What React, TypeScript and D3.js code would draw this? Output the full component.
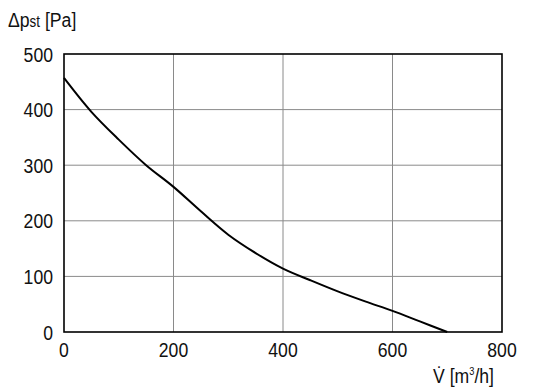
import React, { useEffect, useRef } from 'react';
import * as d3 from 'd3';

// flow rate [m3/h] vs static pressure [Pa]
const flow = [0, 50, 100, 150, 200, 250, 300, 350, 400, 450, 500, 550, 600, 650, 700];
const pressure = [457, 396, 346, 300, 261, 217, 175, 142, 114, 93, 73, 55, 38, 19, 0];
const xTicks = [0, 200, 400, 600, 800];
const yTicks = [0, 100, 200, 300, 400, 500];

const width = 536;
const height = 390;
const margin = { top: 54, right: 34, bottom: 58, left: 64 };
const font = '"Liberation Sans", Arial, sans-serif';
const squeeze = 0.84; // the original uses a condensed face

const App = () => {
  const svgRef = useRef<SVGSVGElement>(null);

  useEffect(() => {
    const svg = d3.select(svgRef.current);
    svg.selectAll('*').remove();

    const x = d3.scaleLinear().domain([0, 800]).range([margin.left, width - margin.right]);
    const y = d3.scaleLinear().domain([0, 500]).range([height - margin.bottom, margin.top]);

    const grid = svg.append('g').attr('stroke', '#8a8a8a').attr('stroke-width', 1);
    grid.selectAll('.vx')
      .data(xTicks.slice(1, -1))
      .enter()
      .append('line')
      .attr('x1', d => x(d)).attr('x2', d => x(d))
      .attr('y1', y(0)).attr('y2', y(500));
    grid.selectAll('.hy')
      .data(yTicks.slice(1, -1))
      .enter()
      .append('line')
      .attr('x1', x(0)).attr('x2', x(800))
      .attr('y1', d => y(d)).attr('y2', d => y(d));

    const data = flow.map((f, i) => [f, pressure[i]] as [number, number]);
    const line = d3.line<[number, number]>()
      .x(d => x(d[0]))
      .y(d => y(d[1]))
      .curve(d3.curveCatmullRom);

    svg.append('path')
      .datum(data)
      .attr('fill', 'none')
      .attr('stroke', '#000')
      .attr('stroke-width', 2)
      .attr('d', line);

    svg.append('rect')
      .attr('x', x(0)).attr('y', y(500))
      .attr('width', x(800) - x(0)).attr('height', y(0) - y(500))
      .attr('fill', 'none')
      .attr('stroke', '#000')
      .attr('stroke-width', 1.6);

    const labels = svg.append('g').attr('font-family', font).attr('font-size', 21).attr('fill', '#111');
    const at = (px: number, py: number) => `translate(${px},${py}) scale(${squeeze},1)`;

    labels.selectAll('.xt')
      .data(xTicks)
      .enter()
      .append('text')
      .attr('transform', d => at(x(d), y(0) + 25))
      .attr('text-anchor', 'middle')
      .text(d => d);
    labels.selectAll('.yt')
      .data(yTicks)
      .enter()
      .append('text')
      .attr('transform', d => at(x(0) - 11, y(d) + 7.5))
      .attr('text-anchor', 'end')
      .text(d => d);

    const yl = labels.append('text').attr('transform', at(8, 27));
    yl.append('tspan').text('\u0394p');
    yl.append('tspan').attr('font-size', 16).text('st');
    yl.append('tspan').text(' [Pa]');

    const xl = labels.append('text').attr('transform', at(494, 383)).attr('text-anchor', 'end');
    xl.append('tspan').text('V\u0307 [m');
    xl.append('tspan').attr('font-size', 11).attr('dy', -8).text('3');
    xl.append('tspan').attr('dy', 8).text('/h]');
  }, []);

  return (
    <svg
      ref={svgRef}
      width={width}
      height={height}
      style={{ position: 'absolute', left: 0, top: 0, background: '#fff' }}
    />
  );
};

export default App;
